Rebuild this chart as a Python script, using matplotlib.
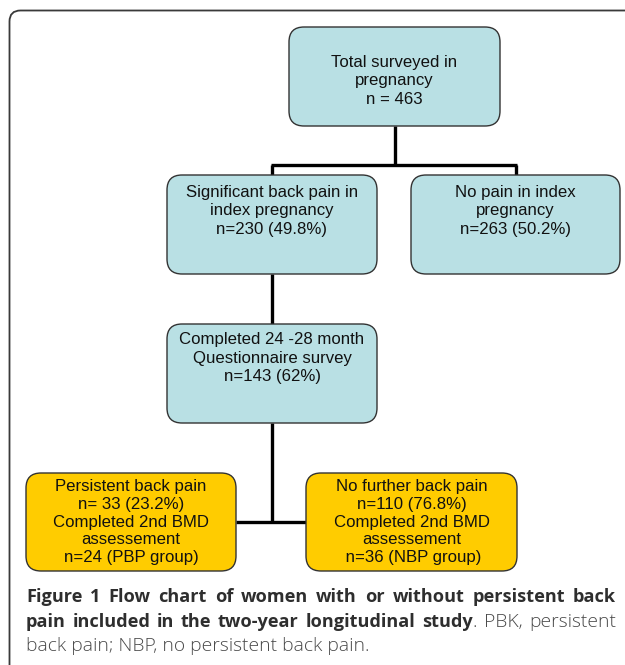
import matplotlib
matplotlib.use("Agg")
import matplotlib.pyplot as plt
from matplotlib.patches import FancyBboxPatch

# ---- data ----
box_labels = [
    "Total surveyed in\npregnancy\nn = 463",
    "Significant back pain in\nindex pregnancy\nn=230 (49.8%)",
    "No pain in index\npregnancy\nn=263 (50.2%)",
    "Completed 24 -28 month\nQuestionnaire survey\nn=143 (62%)",
    "Persistent back pain\nn= 33 (23.2%)\nCompleted 2nd BMD\nassessement\nn=24 (PBP group)",
    "No further back pain\nn=110 (76.8%)\nCompleted 2nd BMD\nassessement\n n=36 (NBP group)",
]
box_kind = ["blue", "blue", "blue", "blue", "yellow", "yellow"]
caption_bold_1 = "Figure 1 Flow chart of women with or without persistent back"
caption_bold_2 = "pain included in the two-year longitudinal study"
caption_reg_2 = ". PBK, persistent"
caption_reg_3 = "back pain; NBP, no persistent back pain."

# ---- layout (pixels) ----
W, H = 625, 665
boxes = [  # x0, y0, x1, y1
    (289, 27, 500, 126),
    (167, 175, 377, 274),
    (411, 175, 620, 274),
    (167, 324, 377, 423),
    (26, 473, 236, 571),
    (306, 473, 517, 571),
]
text_cy = [81, 211, 211, 358, 522, 522]
text_ls = [1.32, 1.32, 1.32, 1.32, 1.21, 1.21]
colors = {"blue": "#b9e0e4", "yellow": "#ffcc00"}

fig = plt.figure(figsize=(W / 100, H / 100), dpi=100)
ax = fig.add_axes([0, 0, 1, 1])
ax.set_xlim(0, W)
ax.set_ylim(H, 0)
ax.axis("off")

# outer frame
frame = FancyBboxPatch((9.5, 10.5), 660, 700,
                       boxstyle="round,pad=0,rounding_size=11",
                       fc="white", ec="#3a3a3a", lw=1.3, zorder=0)
ax.add_patch(frame)

# connectors
lc = dict(color="black", lw=2.4, solid_capstyle="butt", zorder=1)
def cx(i):
    return (boxes[i][0] + boxes[i][2]) / 2
ax.plot([cx(0), cx(0)], [boxes[0][3], 165], **lc)
ax.plot([cx(1) - 1, cx(2) + 1], [165, 165], **lc)
ax.plot([cx(1), cx(1)], [165, boxes[1][1]], **lc)
ax.plot([cx(2), cx(2)], [165, boxes[2][1]], **lc)
ax.plot([cx(1), cx(1)], [boxes[1][3], boxes[3][1]], **lc)
ax.plot([cx(3), cx(3)], [boxes[3][3], 522], **lc)
ax.plot([boxes[4][2], boxes[5][0]], [522, 522], **lc)

for (x0, y0, x1, y1), lab, kind, ty, ls in zip(boxes, box_labels, box_kind, text_cy, text_ls):
    p = FancyBboxPatch((x0, y0), x1 - x0, y1 - y0,
                       boxstyle="round,pad=0,rounding_size=15",
                       fc=colors[kind], ec="#333333", lw=1.0, zorder=2)
    ax.add_patch(p)
    ax.text((x0 + x1) / 2, ty, lab, ha="center", va="center",
            fontsize=12.1, family="Liberation Sans", color="#111111",
            linespacing=ls, zorder=3)

# caption (justified lines 1 and 2)
cap_font = "Open Sans"
reg_size = 13.9
bold_size = 13.1
bold_c = "#2e2e2e"
reg_c = "#4a4a4a"
x_left, x_right = 26, 616
fig.canvas.draw()
r = fig.canvas.get_renderer()

def word_width(w, weight, size):
    t = ax.text(0, 0, w, fontsize=size, family=cap_font, weight=weight)
    wd = t.get_window_extent(r).width
    t.remove()
    return wd

def justified(words, y):
    # words: list of (word, weight, color, size, attach_to_prev)
    groups = []
    for w, wt, c, s, attach in words:
        if attach and groups:
            groups[-1].append((w, wt, c, s))
        else:
            groups.append([(w, wt, c, s)])
    widths = [[word_width(w, wt, s) for w, wt, c, s in g] for g in groups]
    total = sum(sum(ws) for ws in widths)
    gap = (x_right - x_left - total) / (len(groups) - 1)
    x = x_left
    for g, ws in zip(groups, widths):
        for (w, wt, c, s), wd in zip(g, ws):
            ax.text(x, y, w, ha="left", va="baseline", fontsize=s,
                    family=cap_font, weight=wt, color=c)
            x += wd
        x += gap

line1 = [(w, "bold", bold_c, bold_size, False) for w in caption_bold_1.split()]
line2 = [(w, "bold", bold_c, bold_size, False) for w in caption_bold_2.split()]
reg_words = caption_reg_2.split()
line2.append((reg_words[0], "light", reg_c, reg_size, True))
line2 += [(w, "light", reg_c, reg_size, False) for w in reg_words[1:]]
justified(line1, 602)
justified(line2, 627)
ax.text(x_left, 651, caption_reg_3, ha="left", va="baseline", fontsize=reg_size,
        family=cap_font, weight="light", color=reg_c)

fig.savefig("out.png", dpi=100)
